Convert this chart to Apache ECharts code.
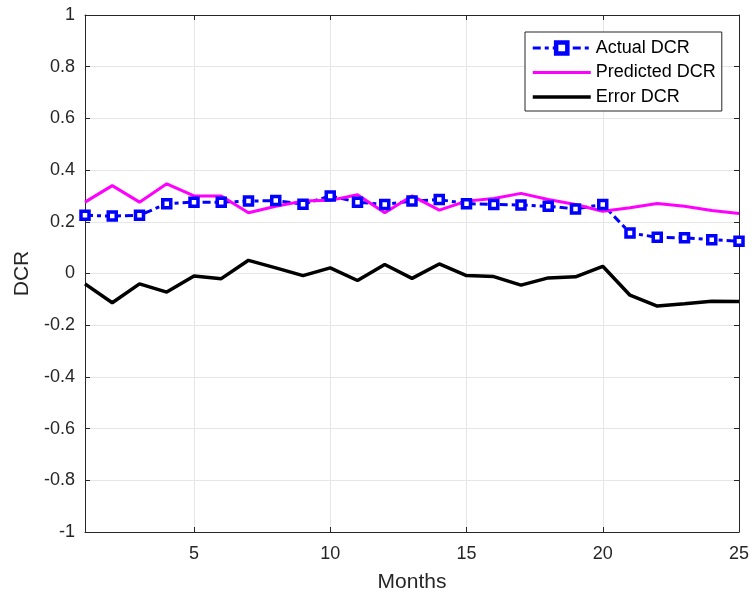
<!DOCTYPE html>
<html>
<head>
<meta charset="utf-8">
<title>DCR</title>
<script src="https://cdn.jsdelivr.net/npm/echarts@6/dist/echarts.min.js"></script>
<style>
  html, body { margin: 0; padding: 0; background: #fff; }
  #dcrchart { width: 753px; height: 602px; }
</style>
</head>
<body>
<div id="dcrchart"></div>
<script>
// 数据
var months = ['1','2','3','4','5','6','7','8','9','10','11','12','13','14','15','16','17','18','19','20','21','22','23','24','25'];
var actualDCR = [0.225, 0.222, 0.225, 0.27, 0.276, 0.276, 0.28, 0.282, 0.268, 0.30, 0.276, 0.267, 0.28, 0.286, 0.27, 0.267, 0.265, 0.26, 0.25, 0.267, 0.157, 0.14, 0.138, 0.131, 0.125];
var predictedDCR = [0.276, 0.34, 0.276, 0.347, 0.30, 0.30, 0.235, 0.26, 0.28, 0.283, 0.305, 0.235, 0.30, 0.245, 0.28, 0.29, 0.31, 0.286, 0.267, 0.241, 0.254, 0.271, 0.26, 0.244, 0.232];
var errorDCR = [-0.04, -0.113, -0.04, -0.072, -0.01, -0.02, 0.051, 0.022, -0.008, 0.022, -0.027, 0.035, -0.019, 0.037, -0.008, -0.012, -0.045, -0.017, -0.013, 0.028, -0.084, -0.126, -0.117, -0.107, -0.108];
var seriesNames = ['Actual DCR', 'Predicted DCR', 'Error DCR'];

var dcrChart = echarts.init(document.getElementById('dcrchart'));

var font = 'Liberation Sans';
var axisColor = '#262626';
var gridColor = '#e6e6e6';

// 每5个月一个刻度
var everyFifth = function (index) {
    return (index + 1) % 5 == 0;
};

var option = {
    backgroundColor: '#fff',
    animation: false,
    grid: {
        left: 85,
        right: 14,
        top: 15,
        bottom: 70
    },
    legend: {
        orient: 'vertical',
        left: 525,
        top: 32,
        padding: [7, 6, 5, 6],
        itemGap: 6.5,
        itemWidth: 58,
        itemHeight: 14,
        borderColor: axisColor,
        borderWidth: 1,
        borderRadius: 0,
        backgroundColor: '#fff',
        data: [
            {
                name: seriesNames[0],
                itemStyle: { color: '#ffffff', borderColor: '#0000ff', borderWidth: 4.5 },
                lineStyle: { width: 3 }
            },
            /* 只画线，不画符号 */
            { name: seriesNames[1], itemStyle: { opacity: 0 }, lineStyle: { width: 3 } },
            { name: seriesNames[2], itemStyle: { opacity: 0 }, lineStyle: { width: 3.5 } }
        ],
        textStyle: {
            fontFamily: font,
            fontSize: 18,
            lineHeight: 18,
            color: '#000'
        }
    },
    xAxis: [
        {
            type: 'category',
            data: months,
            boundaryGap: false,
            name: 'Months',
            nameLocation: 'middle',
            nameGap: 40,
            nameTextStyle: { fontFamily: font, fontSize: 21, color: axisColor },
            axisLine: { onZero: false, lineStyle: { color: axisColor, width: 1 } },
            axisTick: { inside: true, length: 5, interval: everyFifth, lineStyle: { color: axisColor } },
            axisLabel: { interval: everyFifth, margin: 13, fontFamily: font, fontSize: 18, color: axisColor },
            splitLine: { show: true, interval: everyFifth, lineStyle: { color: gridColor } }
        },
        {
            type: 'category',
            data: months,
            boundaryGap: false,
            position: 'top',
            axisLine: { onZero: false, lineStyle: { color: axisColor, width: 1 } },
            axisTick: { inside: true, length: 5, interval: everyFifth, lineStyle: { color: axisColor } },
            axisLabel: { show: false },
            splitLine: { show: false }
        }
    ],
    yAxis: [
        {
            type: 'value',
            min: -1,
            max: 1,
            interval: 0.2,
            name: 'DCR',
            nameLocation: 'middle',
            nameGap: 51,
            nameTextStyle: { fontFamily: font, fontSize: 21, color: axisColor },
            axisLine: { show: true, onZero: false, lineStyle: { color: axisColor, width: 1 } },
            axisTick: { show: true, inside: true, length: 5, lineStyle: { color: axisColor } },
            axisLabel: { margin: 10, fontFamily: font, fontSize: 18, color: axisColor },
            splitLine: { show: true, lineStyle: { color: gridColor } }
        },
        {
            type: 'value',
            min: -1,
            max: 1,
            interval: 0.2,
            position: 'right',
            axisLine: { show: true, onZero: false, lineStyle: { color: axisColor, width: 1 } },
            axisTick: { show: true, inside: true, length: 5, lineStyle: { color: axisColor } },
            axisLabel: { show: false },
            splitLine: { show: false }
        }
    ],
    series: [
        {
            name: seriesNames[0],
            type: 'line',
            data: actualDCR,
            symbol: 'rect',
            symbolSize: 8,
            showAllSymbol: true,
            lineStyle: { color: '#0000ff', width: 3, type: [8, 4, 4, 4] },
            itemStyle: { color: '#ffffff', borderColor: '#0000ff', borderWidth: 3.5 }
        },
        {
            name: seriesNames[1],
            type: 'line',
            data: predictedDCR,
            symbol: 'none',
            lineStyle: { color: '#ff00ff', width: 3 },
            itemStyle: { color: '#ff00ff' }
        },
        {
            name: seriesNames[2],
            type: 'line',
            data: errorDCR,
            symbol: 'none',
            lineStyle: { color: '#000000', width: 3.5 },
            itemStyle: { color: '#000000' }
        }
    ]
};

dcrChart.setOption(option);
</script>
</body>
</html>
